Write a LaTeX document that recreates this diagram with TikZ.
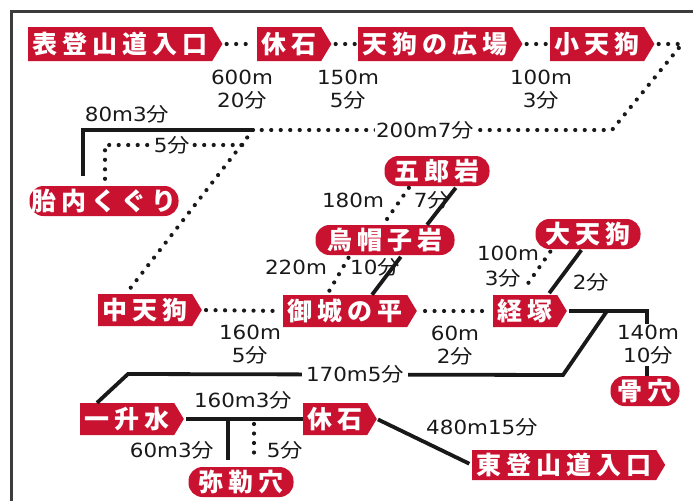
\documentclass[tikz,border=0pt]{standalone}
\usepackage{fontspec}
\setmainfont{DejaVu Sans}[FakeStretch=1.1]
\newfontfamily\jpbox{Noto Sans CJK JP}[LetterSpace=20]
\newfontfamily\jpl{Noto Sans CJK JP}[FakeStretch=1.15]
\usetikzlibrary{shapes.symbols}
\definecolor{jred}{RGB}{200,18,48}
\definecolor{ink}{RGB}{25,25,25}
\definecolor{framec}{RGB}{60,60,60}
\newcommand\fen{{\jpl 分}}
\begin{document}
\begin{tikzpicture}[x=1pt,y=-1pt,
  sig/.style={signal, signal to=east, signal pointer angle=118, fill=jred, text=white,
    font=\jpbox\bfseries\fontsize{25}{25}\selectfont, inner xsep=4.5pt, inner ysep=0pt,
    minimum height=32pt, anchor=west},
  pill/.style={rectangle, rounded corners=14pt, fill=jred, text=white,
    font=\jpbox\bfseries\fontsize{25}{25}\selectfont, inner xsep=10pt, inner ysep=0pt,
    minimum height=30pt},
  lbl/.style={font=\fontsize{19.5}{23}\selectfont, text=ink, align=center, inner sep=1pt},
  lblw/.style={lbl, fill=white},
  solidl/.style={line width=3.8pt, draw=ink},
  dotl/.style={line width=4.2pt, draw=ink, dash pattern=on 0pt off 9.5pt, line cap=round}]
\useasboundingbox (0,0) rectangle (693,501);
% frame
\draw[framec, line width=3pt] (11,501) -- (11,11) -- (693,11);
% stations
\node[sig, minimum height=34pt] (omote) at (28,44) {表登山道入口};
\node[sig, minimum height=34pt] (kyuA) at (257,44) {休石};
\node[sig, minimum height=34pt] (hiroba) at (358,44) {天狗の広場};
\node[sig, minimum height=34pt] (kotengu) at (550,44) {小天狗};
\node[pill, inner xsep=2pt] (tainai) at (104,201) {胎内くぐり};
\node[pill] (goro) at (437,171) {五郎岩};
\node[pill, inner xsep=12pt] (eboshi) at (385,240) {烏帽子岩};
\node[pill] (daitengu) at (588,234) {大天狗};
\node[sig] (naka) at (98,310) {中天狗};
\node[sig] (gojo) at (283,311) {御城の平};
\node[sig] (kyozuka) at (493,311) {経塚};
\node[pill, inner xsep=7pt] (hone) at (645,391) {骨穴};
\node[sig] (issho) at (80,419) {一升水};
\node[sig] (kyuB) at (303,419) {休石};
\node[sig, minimum height=30pt] (higashi) at (472,465) {東登山道入口};
\node[pill] (miroku) at (241,482) {弥勒穴};
% helper coordinates
\coordinate (tr) at (682,44);
\coordinate (trb) at (612,130);
\coordinate (J) at (253,130);
\coordinate (K) at (243,145);
\coordinate (tl) at (83,130);
\coordinate (tl2) at (105,145);
\coordinate (kz1) at (647,311);
\coordinate (kz2) at (607,311);
\coordinate (sb1) at (563,375);
\coordinate (sb2) at (128,374);
% top row
\draw[dotl, shorten <=4pt, shorten >=3pt] (omote.east) -- (kyuA.west);
\draw[dotl, shorten <=4pt, shorten >=3pt] (kyuA.east) -- (hiroba.west);
\draw[dotl, shorten <=4pt, shorten >=3pt] (hiroba.east) -- (kotengu.west);
\draw[dotl, shorten <=4pt] (kotengu.east) -- (tr) -- (trb) -- (J);
\draw[solidl, shorten >=10pt] (J) -- (tl) -- (tl |- tainai.north);
\draw[dotl, shorten <=7pt] (tl2 |- tainai.north) -- (tl2) -- (K);
\draw[dotl] (J) -- ([xshift=28pt]naka.north west);
% middle
\draw[dotl, shorten <=4pt, shorten >=3pt] (naka.east) -- (gojo.west);
\draw[dotl, shorten <=8pt, shorten >=3pt] (gojo.east) -- (kyozuka.west);
\draw[dotl, shorten <=2pt, shorten >=3pt] (410,0 |- goro.south) -- (383,0 |- eboshi.north);
\draw[solidl, shorten <=2pt] (457,0 |- goro.south) -- (427,0 |- eboshi.north);
\draw[dotl, shorten <=3pt, shorten >=3pt] (350,0 |- eboshi.south) -- (327,0 |- gojo.north);
\draw[solidl, shorten <=2pt] (402,0 |- eboshi.south) -- (372,0 |- gojo.north);
\draw[dotl, shorten <=3pt, shorten >=6pt] (552,0 |- daitengu.south) -- (520,0 |- kyozuka.north);
\draw[solidl, shorten <=1pt, shorten >=2pt] (582,0 |- daitengu.south) -- (548,0 |- kyozuka.north);
\draw[solidl, shorten <=2pt] (kyozuka.east) -- (kz1) -- (kz1 |- hone.north);
\draw[solidl] (kz2) -- (sb1) -- (sb2) -- (97,0 |- issho.north);
% bottom
\draw[solidl, shorten <=2pt] (issho.east) -- (kyuB.west);
\draw[solidl, shorten >=7pt] (228,0 |- issho.east) -- (228,0 |- miroku.north);
\draw[dotl, shorten <=5pt, shorten >=6pt] (254,0 |- issho.east) -- (254,0 |- miroku.north);
\draw[solidl, shorten <=1pt, shorten >=3pt] (kyuB.east) -- (higashi.west);
% labels
\node[lbl] (l1) at (242,90) {600m\\20\fen};
\node[lbl] (l2) at (348,90) {150m\\5\fen};
\node[lbl] (l3) at (541,90) {100m\\3\fen};
\node[lbl] (l4) at (127,114) {80m3\fen};
\node[lblw] (l5) at (425,130) {200m7\fen};
\node[lblw] (l6) at (172,145) {5\fen};
\node[lbl] (l7) at (353,200) {180m};
\node[lbl] (l8) at (432,200) {7\fen};
\node[lbl] (l9) at (296,267) {220m};
\node[lbl] (l10) at (375,267) {10\fen};
\node[lbl] (l11) at (508,253) {100m};
\node[lbl] (l12) at (503,278) {3\fen};
\node[lbl] (l13) at (591,282) {2\fen};
\node[lbl] (l14) at (250,345) {160m\\5\fen};
\node[lbl] (l15) at (455,346) {60m\\2\fen};
\node[lblw] (l16) at (648,345) {140m\\10\fen};
\node[lblw, inner xsep=4pt] (l17) at (355,374) {170m5\fen};
\node[lbl] (l18) at (243,400) {160m3\fen};
\node[lbl] (l19) at (172,450) {60m3\fen};
\node[lbl] (l20) at (285,450) {5\fen};
\node[lbl] (l21) at (482,427) {480m15\fen};
\end{tikzpicture}
\end{document}
